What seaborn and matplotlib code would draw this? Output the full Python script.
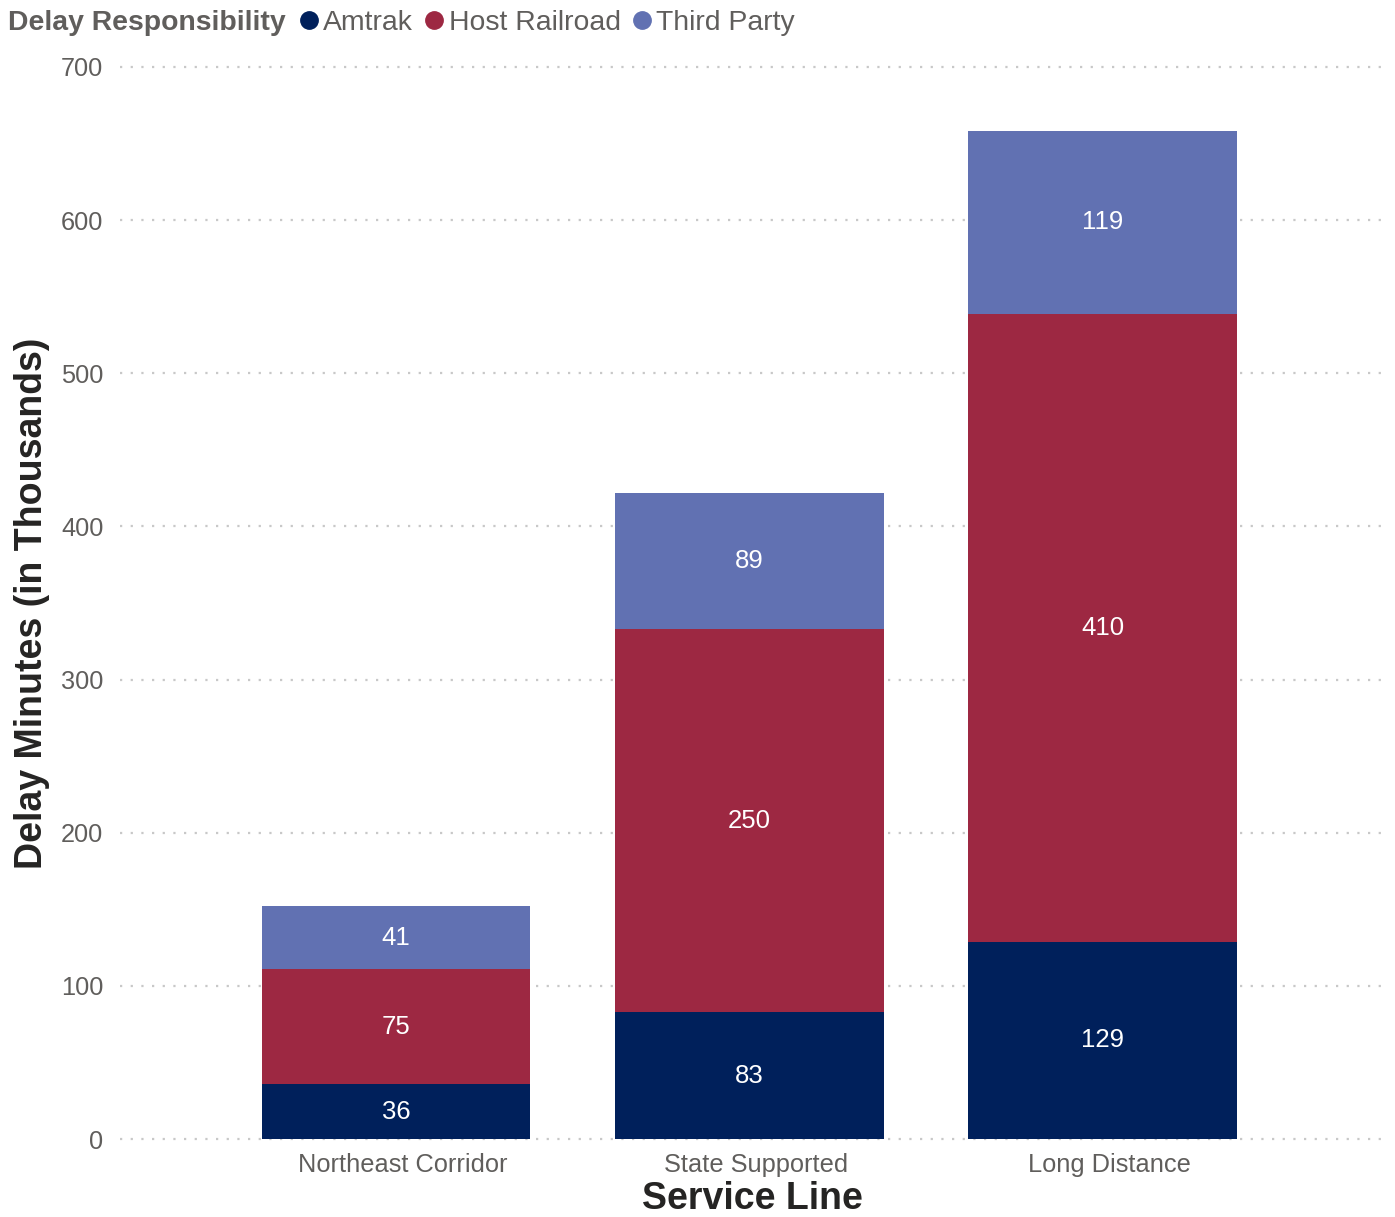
import pandas as pd
import seaborn as sns
import matplotlib.pyplot as plt
from matplotlib.lines import Line2D
from matplotlib.transforms import ScaledTranslation

# data (thousands of delay minutes)
service_lines = ["Northeast Corridor", "State Supported", "Long Distance"]
amtrak = [36, 83, 129]
host_railroad = [75, 250, 410]
third_party = [41, 89, 119]
responsibility = ["Amtrak", "Host Railroad", "Third Party"]
colors = ["#00205B", "#9D2842", "#6171B2"]

df = pd.DataFrame({
    "Service Line": service_lines * 3,
    "Responsibility": [r for r in responsibility for _ in service_lines],
    "Value": amtrak + host_railroad + third_party,
})

sns.set_theme(style="white")
plt.rcParams["font.family"] = ["Liberation Sans", "DejaVu Sans"]

fig = plt.figure(figsize=(13.95, 12.17), dpi=100)
ax = fig.add_axes([0.086, 0.064, 0.907, 0.881])

# horizontal dotted gridlines
for y in range(0, 701, 100):
    ax.axhline(y, color="#C8C8C8", lw=1.6, ls=(0, (1, 3.8)), zorder=0, clip_on=False)

bottom = [0] * len(service_lines)
for resp, col in zip(responsibility, colors):
    sub = df[df["Responsibility"] == resp].set_index("Service Line").loc[service_lines]
    vals = sub["Value"].tolist()
    sns.barplot(x=service_lines, y=vals, bottom=bottom, color=col, width=0.76,
                order=service_lines, ax=ax, zorder=2, saturation=1, linewidth=0)
    for i, v in enumerate(vals):
        ax.text(i, bottom[i] + v / 2, f"{v}", ha="center", va="center",
                color="white", fontsize=18.5, zorder=3)
    bottom = [b + v for b, v in zip(bottom, vals)]

ax.set_xlim(-0.782, 2.80)
ax.set_ylim(0, 700)
ax.set_yticks(range(0, 701, 100))
sns.despine(ax=ax, left=True, bottom=True)
ax.tick_params(axis="both", length=0, labelsize=18.3, labelcolor="#605E5C")
ax.tick_params(axis="y", pad=12)
ax.tick_params(axis="x", pad=10)
for lab in ax.get_xticklabels():
    lab.set_transform(lab.get_transform() + ScaledTranslation(0.07, 0, fig.dpi_scale_trans))

ax.set_xlabel("Service Line", fontsize=27, fontweight="bold", color="#252423", labelpad=3)
ax.set_ylabel("Delay Minutes (in Thousands)", fontsize=27, fontweight="bold",
              color="#252423", labelpad=8)

# legend across the top
fig.text(8 / 1395, 1 - 23 / 1217, "Delay Responsibility", fontsize=20.4, fontweight="bold",
         color="#605E5C", va="center", ha="left")
handles = [Line2D([], [], marker="o", ls="", color=c, markersize=12.5) for c in colors]
fig.legend(handles, responsibility, loc="center left", ncol=3, frameon=False,
           bbox_to_anchor=(295 / 1395, 1 - 23 / 1217), fontsize=20.4,
           handletextpad=0.0, columnspacing=0.25, handlelength=1.0, labelcolor="#605E5C",
           borderaxespad=0, borderpad=0)

fig.savefig("out.png", dpi=100)
